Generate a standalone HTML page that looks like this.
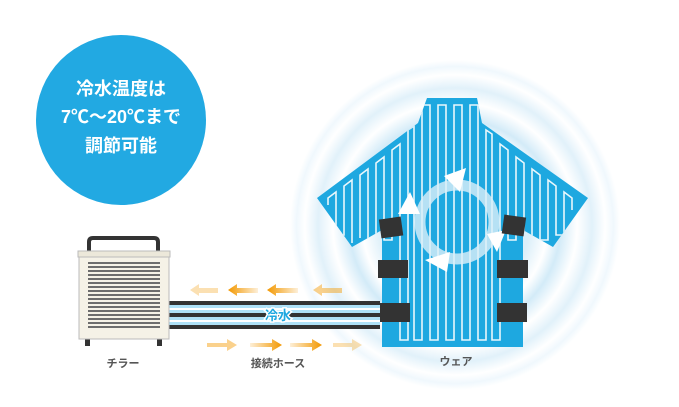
<!DOCTYPE html>
<html><head><meta charset="utf-8"><style>
html,body{margin:0;padding:0;background:#fff;}
svg{display:block;}
text{font-family:"Liberation Sans","Noto Sans CJK JP",sans-serif;}
</style></head><body>
<svg width="679" height="407" viewBox="0 0 679 407" xmlns="http://www.w3.org/2000/svg">
<defs>
<radialGradient id="halo" cx="455" cy="225" r="165" gradientUnits="userSpaceOnUse">
<stop offset="0" stop-color="#c9e6f6"/>
<stop offset="0.45" stop-color="#dcEFF9"/>
<stop offset="0.56" stop-color="#ffffff"/>
<stop offset="0.64" stop-color="#d3ebf8"/>
<stop offset="0.74" stop-color="#ffffff"/>
<stop offset="0.83" stop-color="#e1f1fa"/>
<stop offset="0.91" stop-color="#ffffff"/>
<stop offset="0.96" stop-color="#f0f8fd"/>
<stop offset="1" stop-color="#ffffff"/>
</radialGradient>
<linearGradient id="ar" x1="0" x2="1"><stop offset="0" stop-color="#f39800" stop-opacity="0.15"/><stop offset="1" stop-color="#f39800"/></linearGradient>
<linearGradient id="ar2" x1="1" x2="0"><stop offset="0" stop-color="#f39800" stop-opacity="0.15"/><stop offset="1" stop-color="#f39800"/></linearGradient>
<clipPath id="shirt"><path d="M427,98 L477,98 L482,123 L588,198 L553,247 L523,230 L523,347 L382,347 L382,230 L352,247 L317,198 L418,123 Z"/></clipPath>
</defs>
<circle cx="455" cy="225" r="165" fill="url(#halo)"/>

<!-- bubble -->
<circle cx="121" cy="120" r="85" fill="#22a9e2"/>
<text x="121" y="95" font-size="18" fill="#fff" text-anchor="middle" font-weight="bold">冷水温度は</text>
<text x="121" y="123" font-size="18" fill="#fff" text-anchor="middle" font-weight="bold">7℃～20℃まで</text>
<text x="121" y="152" font-size="18" fill="#fff" text-anchor="middle" font-weight="bold">調節可能</text>

<!-- shirt -->
<path d="M427,98 L477,98 L482,123 L588,198 L553,247 L523,230 L523,347 L382,347 L382,230 L352,247 L317,198 L418,123 Z" fill="#1ea8e0"/>
<g clip-path="url(#shirt)" stroke="#ffffff" stroke-width="1.6" fill="none" opacity="0.9">
<path d="M328,205 L328,198 L336,192 V235 h8 V186 l8,-6 V243 h0 M360,238 V175 l8,-6 V240 h8 V163 l8,-6 V240 h8 V150 l8,-6 V340 h8 V130 l6,-4 V340 h8 V105 h8 V340 h8 V105 h8 V340 h8 V105 h8 V340 h8 V105 h8 V340 h8 V130 l6,4 V340 h8 V144 l8,6 V240 h8 V157 l8,6 V240 h8 V169 l8,6 V240 h8 V180 l8,6 V235 h8 V192 l8,6 V210"/>
</g>
<!-- rotation ring -->
<circle cx="457" cy="222" r="37" fill="none" stroke="#dceff9" stroke-width="11" opacity="0.8"/>
<g fill="#fff">
<polygon points="444,176 466,168 460,192"/>
<polygon points="497,252 506,230 487,234"/>
<polygon points="447,272 425,260 450,252"/>
<polygon points="398,214 420,214 410,192"/>
</g>
<!-- black bands -->
<g fill="#333">
<rect x="380" y="218" width="22" height="19" transform="rotate(-8 391 227)"/>
<rect x="503" y="216" width="22" height="19" transform="rotate(8 514 225)"/>
<rect x="378" y="260" width="30" height="18"/>
<rect x="497" y="260" width="31" height="18"/>
<rect x="379" y="303" width="31" height="19"/>
<rect x="497" y="303" width="30" height="19"/>
</g>

<!-- hoses -->
<rect x="167" y="301" width="213" height="28" fill="#aee1f7"/>
<rect x="167" y="301" width="213" height="4" fill="#333"/>
<rect x="167" y="313" width="213" height="4" fill="#333"/>
<rect x="167" y="325" width="213" height="4" fill="#333"/>
<rect x="167" y="308" width="213" height="2" fill="#fff"/>
<rect x="167" y="320" width="213" height="2" fill="#fff"/>
<text x="278" y="320" font-size="13" font-weight="bold" fill="#1ea8e0" stroke="#fff" stroke-width="3" paint-order="stroke" text-anchor="middle">冷水</text>

<!-- chiller -->
<path d="M89,252 V242 q0,-4 4,-4 H154 q4,0 4,4 V252" fill="none" stroke="#333" stroke-width="4"/>
<rect x="85" y="337" width="5" height="9" fill="#333"/>
<rect x="157" y="337" width="5" height="9" fill="#333"/>
<rect x="79" y="252" width="90" height="87" fill="#f5f2e7" stroke="#bbb" stroke-width="1"/>
<rect x="78" y="251" width="92" height="6" fill="#ece8da" stroke="#bbb" stroke-width="1"/>
<g fill="#6d6d6d">
<rect x="88" y="262" width="72" height="2"/><rect x="88" y="266" width="72" height="2"/><rect x="88" y="270" width="72" height="2"/><rect x="88" y="274" width="72" height="2"/><rect x="88" y="278" width="72" height="2"/><rect x="88" y="282" width="72" height="2"/><rect x="88" y="286" width="72" height="2"/><rect x="88" y="290" width="72" height="2"/><rect x="88" y="294" width="72" height="2"/><rect x="88" y="298" width="72" height="2"/><rect x="88" y="302" width="72" height="2"/><rect x="88" y="306" width="72" height="2"/><rect x="88" y="310" width="72" height="2"/><rect x="88" y="314" width="72" height="2"/><rect x="88" y="318" width="72" height="2"/><rect x="88" y="322" width="72" height="2"/><rect x="88" y="326" width="72" height="2"/>
</g>

<!-- arrows -->
<g>
<polygon points="190,290 199,284 199,288 218,288 218,293 199,293 199,296" fill="#f39800" opacity="0.3"/>
<polygon points="228,290 237,284 237,288 258,288 258,293 237,293 237,296" fill="url(#ar2)"/>
<polygon points="267,290 276,284 276,288 298,288 298,293 276,293 276,296" fill="url(#ar2)"/>
<polygon points="313,290 322,284 322,288 342,288 342,293 322,293 322,296" fill="#f39800" opacity="0.45"/>
</g>
<g>
<polygon points="207,343 227,343 227,339 237,345 227,351 227,347 207,347" fill="#f39800" opacity="0.45"/>
<polygon points="250,343 272,343 272,339 282,345 272,351 272,347 250,347" fill="url(#ar)"/>
<polygon points="290,343 312,343 312,339 322,345 312,351 312,347 290,347" fill="url(#ar)"/>
<polygon points="333,343 352,343 352,339 362,345 352,351 352,347 333,347" fill="#f39800" opacity="0.3"/>
</g>

<!-- labels -->
<g font-size="11" font-weight="bold" fill="#555" text-anchor="middle">
<text x="123" y="367">チラー</text>
<text x="278" y="367">接続ホース</text>
<text x="456" y="365">ウェア</text>
</g>
</svg>
</body></html>
